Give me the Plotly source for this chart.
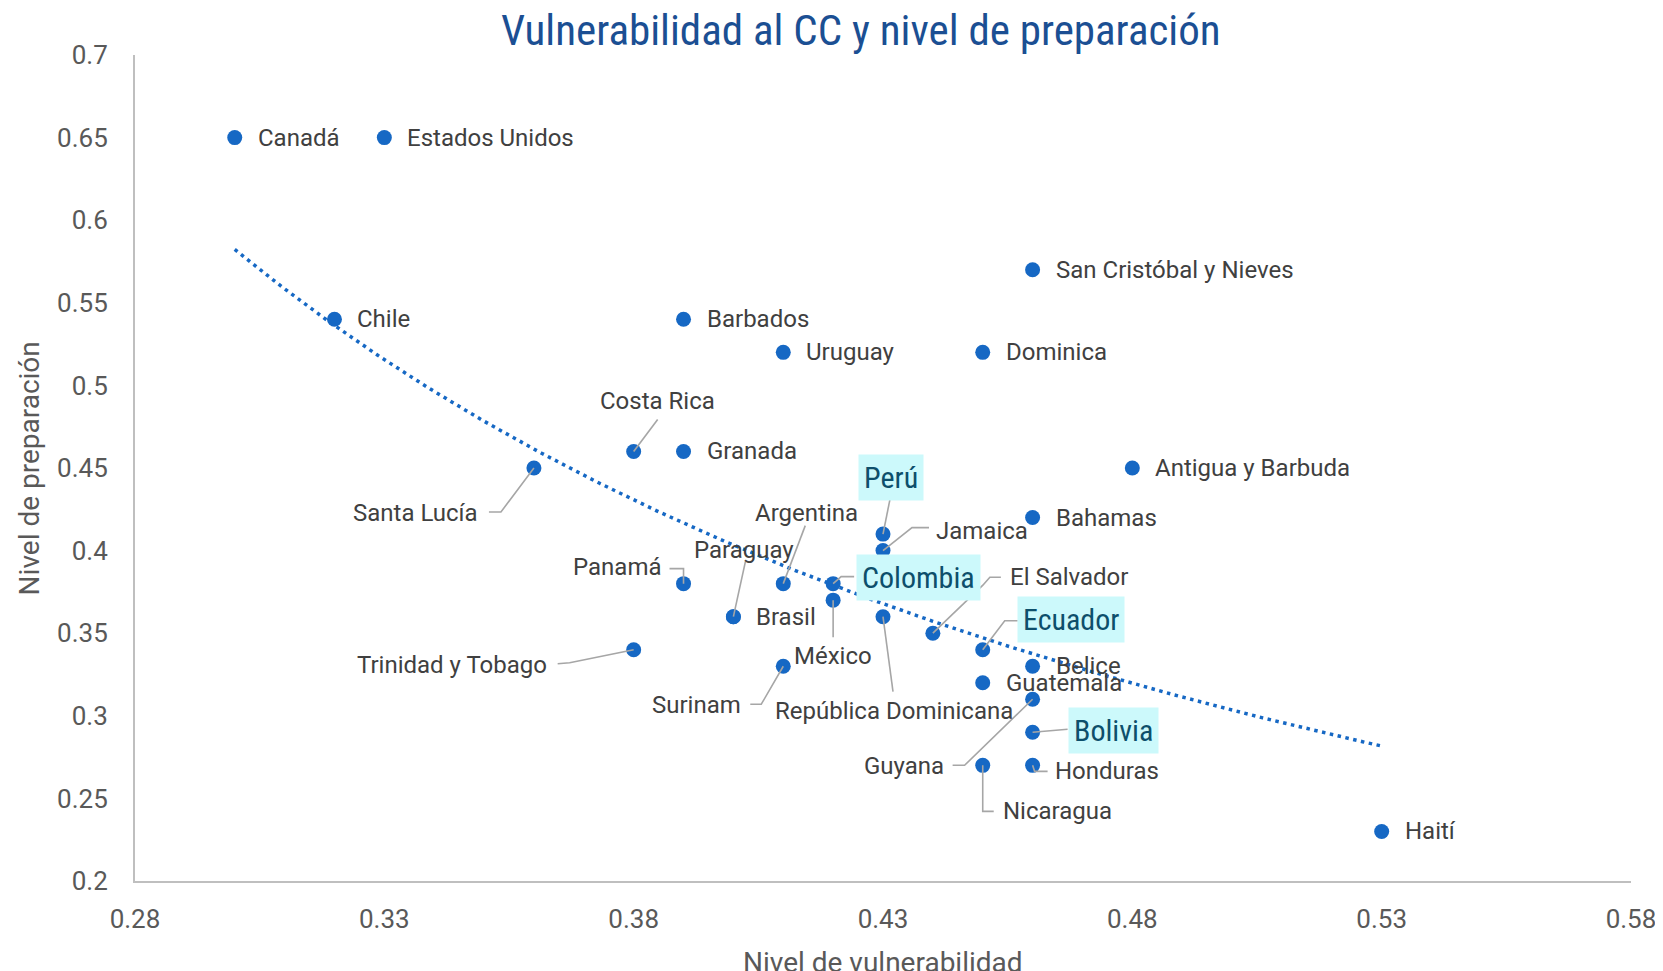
import numpy as np
import plotly.graph_objects as go

# ---- data ----
countries = ["Canadá", "Estados Unidos", "Chile", "Barbados", "Uruguay", "Dominica",
             "San Cristóbal y Nieves", "Costa Rica", "Granada", "Santa Lucía",
             "Antigua y Barbuda", "Bahamas", "Perú", "Jamaica", "Argentina",
             "Paraguay", "Brasil", "Panamá", "Colombia", "México",
             "República Dominicana", "El Salvador", "Ecuador", "Trinidad y Tobago",
             "Surinam", "Belice", "Guatemala", "Guyana", "Bolivia", "Honduras",
             "Nicaragua", "Haití"]
vulnerabilidad = [0.30, 0.33, 0.32, 0.39, 0.41, 0.45,
                  0.46, 0.38, 0.39, 0.36,
                  0.48, 0.46, 0.43, 0.43, 0.41,
                  0.40, 0.40, 0.39, 0.42, 0.42,
                  0.43, 0.44, 0.45, 0.38,
                  0.41, 0.46, 0.45, 0.46, 0.46, 0.46,
                  0.45, 0.53]
preparacion = [0.65, 0.65, 0.54, 0.54, 0.52, 0.52,
               0.57, 0.46, 0.46, 0.45,
               0.45, 0.42, 0.41, 0.40, 0.38,
               0.36, 0.36, 0.38, 0.38, 0.37,
               0.36, 0.35, 0.34, 0.34,
               0.33, 0.33, 0.32, 0.31, 0.29, 0.27,
               0.27, 0.23]
highlighted = ["Perú", "Colombia", "Ecuador", "Bolivia"]

# power trendline y = A * x^B, coefficients
TREND_A = 0.1253
TREND_B = -1.276

x_ticks = [0.28, 0.33, 0.38, 0.43, 0.48, 0.53, 0.58]
x_ticktext = ["0.28", "0.33", "0.38", "0.43", "0.48", "0.53", "0.58"]
y_ticks = [0.2, 0.25, 0.3, 0.35, 0.4, 0.45, 0.5, 0.55, 0.6, 0.65, 0.7]
y_ticktext = ["0.2", "0.25", "0.3", "0.35", "0.4", "0.45", "0.5", "0.55", "0.6", "0.65", "0.7"]

# ---- label placement: pixel offset of label centre from its point (screen, down +) ----
label_offsets = {
    "Costa Rica": (24, -50),
    "Santa Lucía": (-118, 45),
    "Perú": (8, -57),
    "Jamaica": (99, -20),
    "Argentina": (23, -71),
    "Paraguay": (11, -67),
    "Panamá": (-67, -17),
    "Colombia": (85, -6),
    "México": (0, 56),
    "República Dominicana": (11, 94),
    "El Salvador": (136, -56),
    "Ecuador": (88, -30),
    "Trinidad y Tobago": (-182, 15),
    "Surinam": (-87, 39),
    "Guyana": (-129, 67),
    "Bolivia": (81, -2),
    "Honduras": (74, 6),
    "Nicaragua": (75, 46),
}
# leader line vertices (pixel offsets from the point, screen, down +)
leader_paths = {
    "Costa Rica": [(0, 0), (24, -32)],
    "Santa Lucía": [(0, 0), (-33, 44), (-45, 44)],
    "Perú": [(0, 0), (7, -35)],
    "Jamaica": [(0, 0), (29, -23), (46, -23)],
    "Argentina": [(0, 0), (22, -58)],
    "Paraguay": [(0, 0), (12, -55)],
    "Panamá": [(0, 0), (0, -15), (-14, -15)],
    "Colombia": [(0, 0), (8, -7), (21, -7)],
    "México": [(0, 0), (0, 37)],
    "República Dominicana": [(0, 0), (10, 75)],
    "El Salvador": [(0, 0), (50, -48), (57, -56), (68, -56)],
    "Ecuador": [(0, 0), (22, -29), (35, -29)],
    "Trinidad y Tobago": [(0, 0), (-64, 13), (-76, 14)],
    "Surinam": [(0, 0), (-22, 38), (-33, 38)],
    "Guyana": [(0, 0), (-68, 66), (-80, 66)],
    "Bolivia": [(0, 0), (35, -3)],
    "Honduras": [(0, 0), (2, 6), (15, 6)],
    "Nicaragua": [(0, 0), (0, 46), (11, 46)],
}

BLUE = "#1668C4"
LABEL = "#404040"
AXIS = "#595959"
LEADER = "#A6A6A6"
COND = "Liberation Sans Narrow, Roboto Condensed, Arial Narrow, Roboto, sans-serif"

fig = go.Figure()

xt = np.linspace(min(vulnerabilidad), max(vulnerabilidad), 300)
yt = TREND_A * xt ** TREND_B
fig.add_trace(go.Scatter(x=xt, y=yt, mode="lines",
                         line=dict(color=BLUE, width=3.5, dash="3.5px,4.5px"),
                         hoverinfo="skip", showlegend=False))

fig.add_trace(go.Scatter(x=vulnerabilidad, y=preparacion, mode="markers",
                         marker=dict(color=BLUE, size=15),
                         text=countries, showlegend=False))

annotations = []
shapes = []
for name, xv, yv in zip(countries, vulnerabilidad, preparacion):
    hl = name in highlighted
    font = dict(family=COND, size=30, color="#0D4F6B") if hl else \
        dict(family="Roboto, sans-serif", size=24, color=LABEL)
    extra = dict(bgcolor="#CCF9FB", borderpad=5) if hl else {}
    if name in label_offsets:
        dx, dy = label_offsets[name]
        annotations.append(dict(x=xv, y=yv, xref="x", yref="y", text=name,
                                showarrow=False, xanchor="center", yanchor="middle",
                                xshift=dx, yshift=-dy, font=font, **extra))
        pts = leader_paths[name]
        path = "M " + " L ".join(f"{px} {-py}" for px, py in pts)
        shapes.append(dict(type="path", xref="x", yref="y",
                           xsizemode="pixel", ysizemode="pixel",
                           xanchor=xv, yanchor=yv, path=path,
                           line=dict(color=LEADER, width=1.6), layer="above"))
    else:
        annotations.append(dict(x=xv, y=yv, xref="x", yref="y", text=name,
                                showarrow=False, xanchor="left", xshift=21,
                                font=font, **extra))

# title and axis titles
annotations.append(dict(text="Vulnerabilidad al CC y nivel de preparación",
                        xref="paper", yref="paper", x=0.4854, y=1.030,
                        xanchor="center", yanchor="middle", showarrow=False,
                        font=dict(family=COND, size=43, color="#1B4F93")))
annotations.append(dict(text="Nivel de vulnerabilidad", xref="paper", yref="paper",
                        x=0.5, y=-0.0985, xanchor="center", yanchor="middle",
                        showarrow=False,
                        font=dict(family="Roboto, sans-serif", size=28, color=AXIS)))
annotations.append(dict(text="Nivel de preparación", xref="paper", yref="paper",
                        x=-0.0706, y=0.5, xanchor="center", yanchor="middle",
                        textangle=-90, showarrow=False,
                        font=dict(family="Roboto, sans-serif", size=28, color=AXIS)))

fig.update_layout(
    width=1655, height=963,
    margin=dict(l=127, r=32, t=47, b=90),
    paper_bgcolor="white", plot_bgcolor="white",
    font=dict(family="Roboto, sans-serif", color=AXIS),
    annotations=annotations,
    shapes=shapes,
    xaxis=dict(range=[0.28, 0.58], tickvals=x_ticks, ticktext=x_ticktext,
               showgrid=False, zeroline=False, showline=True, automargin=False,
               linecolor="#BFBFBF", linewidth=2, ticks="",
               tickfont=dict(size=26, color=AXIS), ticklabelstandoff=14),
    yaxis=dict(range=[0.2, 0.7], tickvals=y_ticks, ticktext=y_ticktext,
               showgrid=False, zeroline=False, showline=True, automargin=False,
               linecolor="#BFBFBF", linewidth=2, ticks="",
               tickfont=dict(size=26, color=AXIS), ticklabelstandoff=20),
)

fig.write_html("out.html")
